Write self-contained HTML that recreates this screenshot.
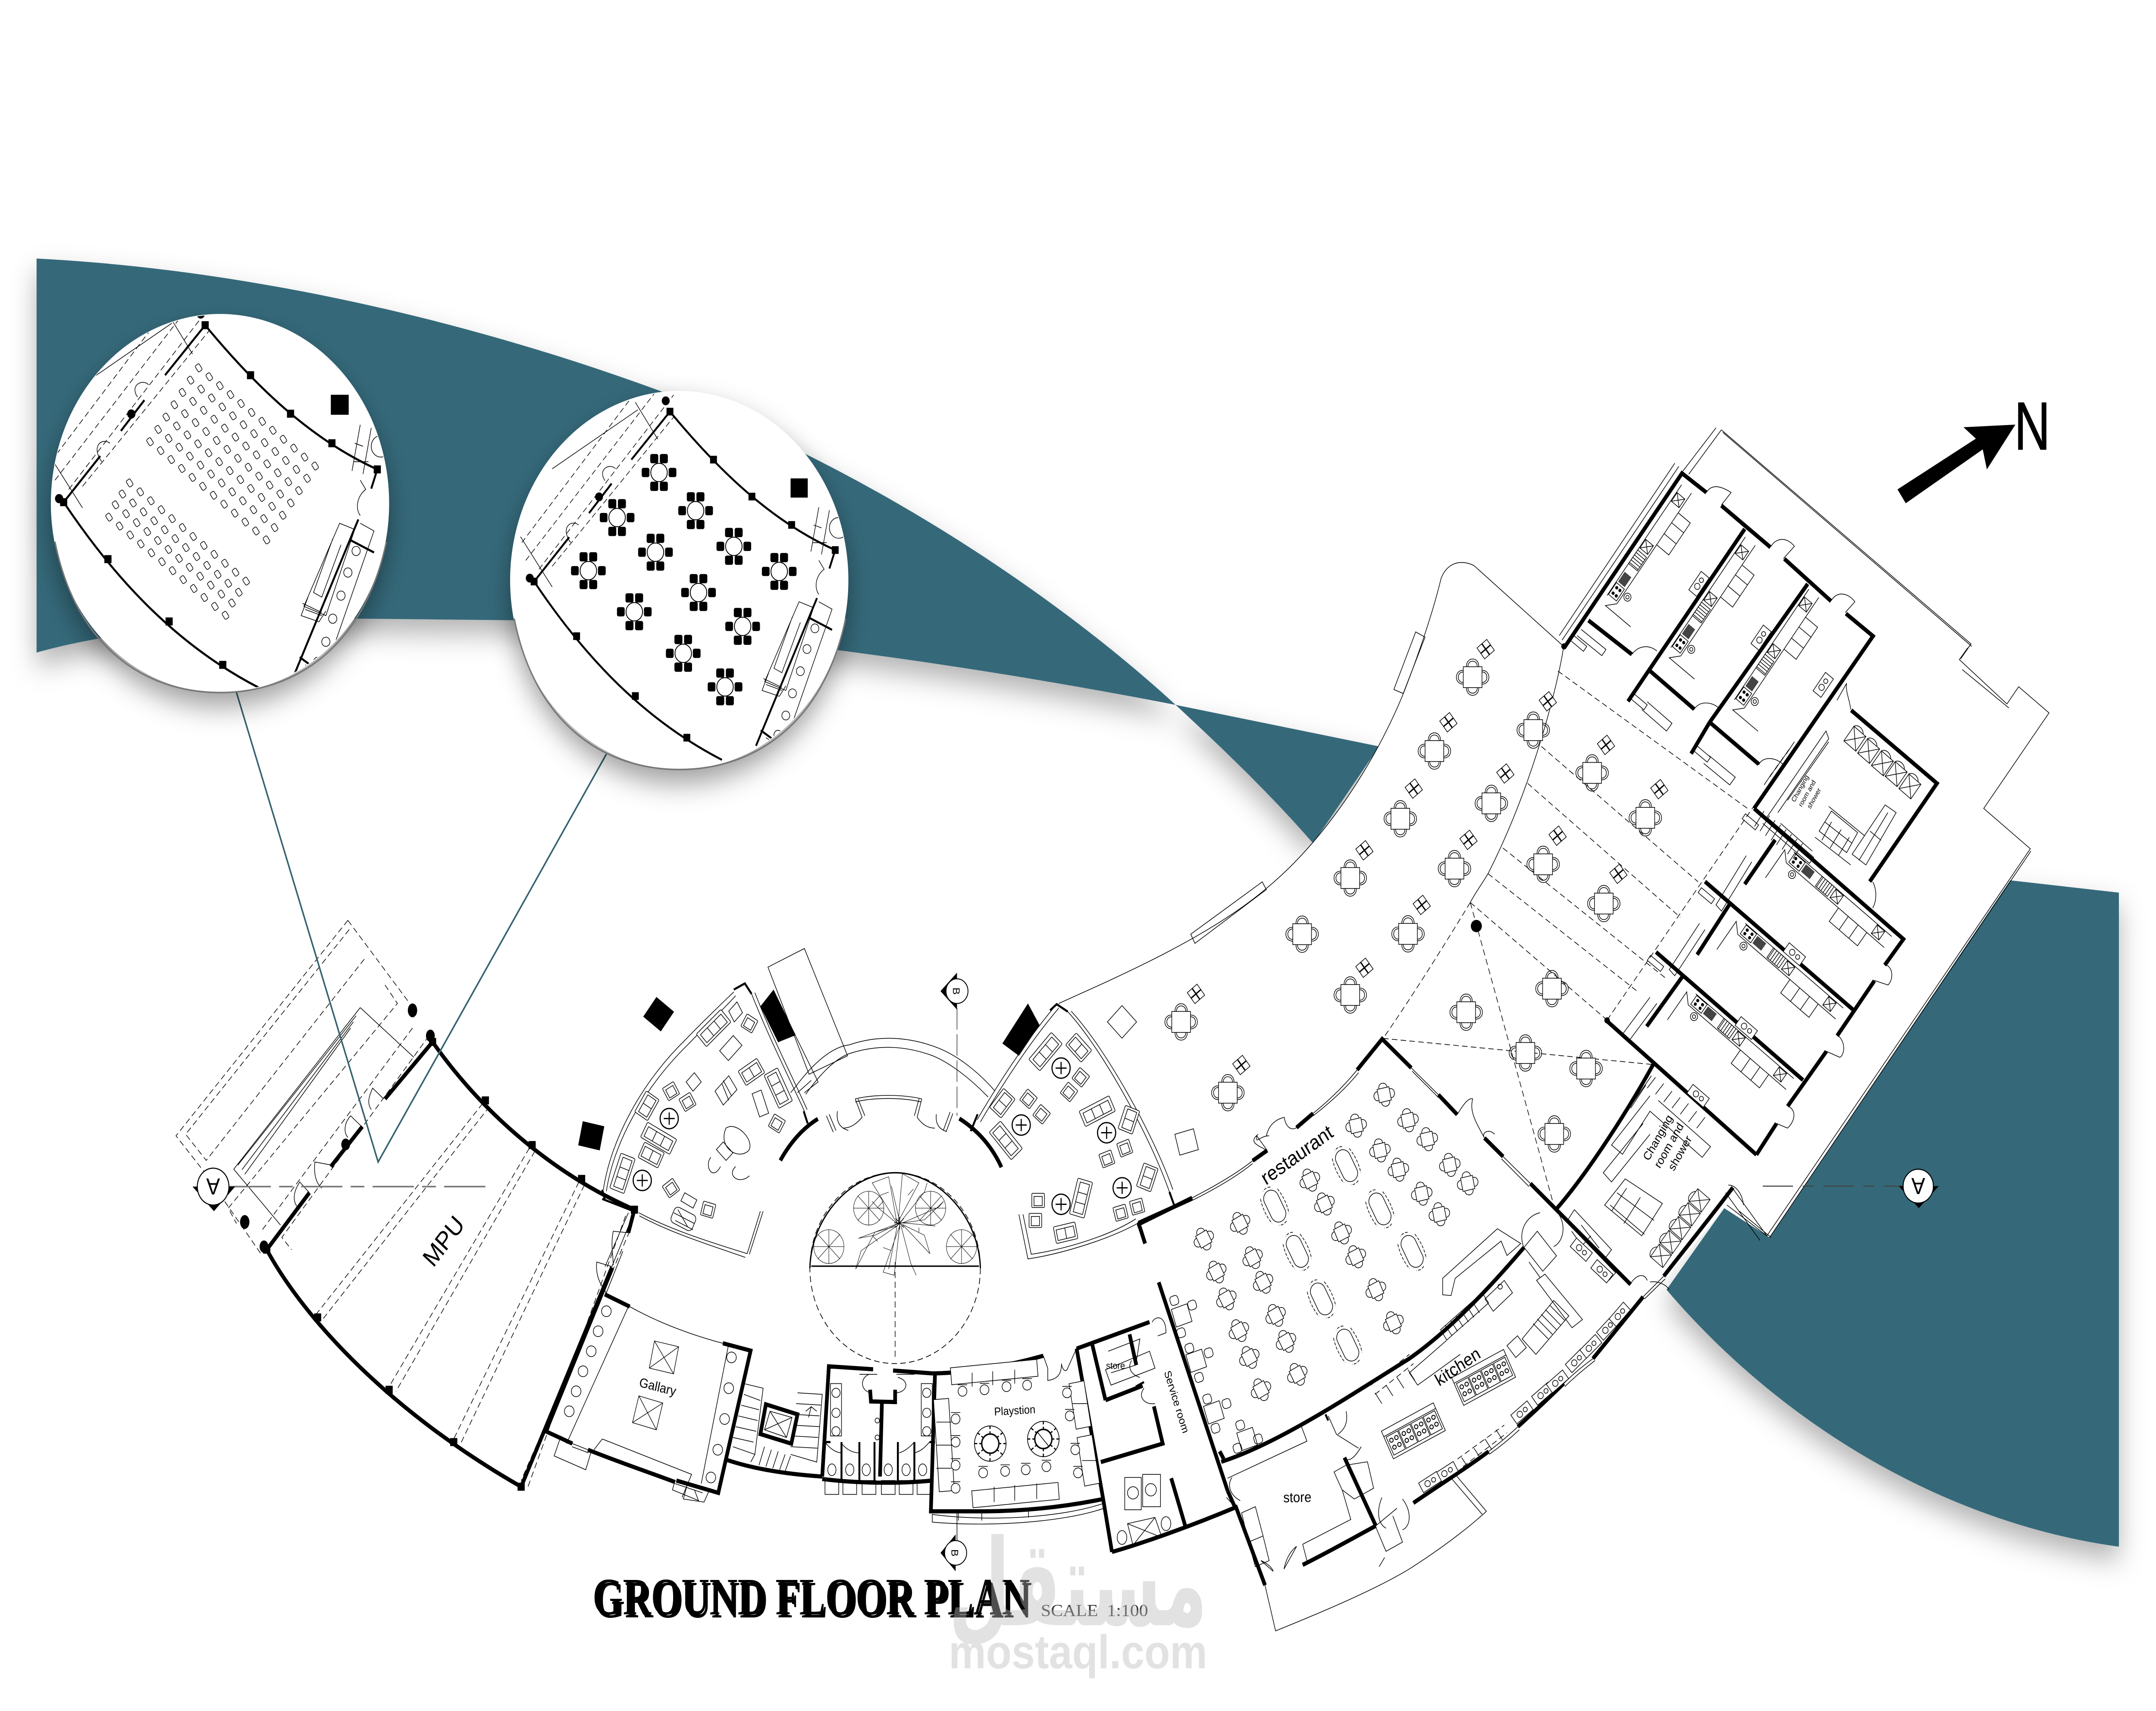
<!DOCTYPE html>
<html><head><meta charset="utf-8"><title>Ground Floor Plan</title>
<style>
html,body{margin:0;padding:0;background:#fff;width:100%;height:100%;overflow:hidden}
svg{position:absolute;left:0;top:0;display:block;width:100%;height:100%}
.w{stroke-width:2.7;stroke-linecap:butt;stroke-linejoin:miter}
.m{stroke-width:1.4}
.t{stroke-width:.45}
.d{stroke-width:.45;stroke-dasharray:4 2.4}
.f{fill:#fff}
.b{fill:#000;stroke:none}
text{font-family:"Liberation Sans",sans-serif;stroke:none;fill:#000}
</style></head><body>
<svg xmlns="http://www.w3.org/2000/svg" viewBox="0 0 1568 1111.74" preserveAspectRatio="none">
<defs>
<filter id="sh" x="-20%" y="-20%" width="140%" height="150%"><feDropShadow dx="0" dy="9" stdDeviation="9" flood-color="#000" flood-opacity=".3"/></filter>
<filter id="csh" x="-30%" y="-30%" width="160%" height="170%"><feDropShadow dx="0" dy="9" stdDeviation="9" flood-color="#000" flood-opacity=".38"/></filter>
<clipPath id="c1"><circle cx="160" cy="327" r="122.5"/></clipPath>
<clipPath id="c2"><circle cx="494" cy="377" r="122.5"/></clipPath>
<g id="ca"><path d="M-4.5,-6.8C-4.6,-13.5 4.6,-13.5 4.5,-6.8M-3.4,-6.8C-3.5,-11.6 3.5,-11.6 3.4,-6.8"/></g>
<g id="t4"><use href="#ca"/><use href="#ca" transform="rotate(90)"/><use href="#ca" transform="rotate(180)"/><use href="#ca" transform="rotate(270)"/><rect x="-6.8" y="-6.8" width="13.6" height="13.6" class="f"/></g>
<g id="st"><rect x="-4.5" y="-4.5" width="9" height="9" class="f"/><path d="M0,-4.5V4.5M-4.5,0H4.5" stroke-width=".9"/></g>
<g id="t3"><rect x="-4.4" y="-4.4" width="8.8" height="8.8" class="f"/><path d="M-3,-4.6C-3,-8.6 3,-8.6 3,-4.6M-3,4.6C-3,8.6 3,8.6 3,4.6M-4.6,-3C-8.6,-3 -8.6,3 -4.6,3M4.6,-3C8.6,-3 8.6,3 4.6,3"/></g>
<g id="ov"><rect x="-11" y="-5.5" width="22" height="11" rx="5.5" class="f"/><path stroke-dasharray="2 1" d="M-9,-7C-3,-8.5 3,-8.5 9,-7M-9,7C-3,8.5 3,8.5 9,7M-12.5,-3C-13.5,-1 -13.5,1 -12.5,3M12.5,-3C13.5,-1 13.5,1 12.5,3"/></g>
<g id="rt"><circle r="6.6" class="f" stroke-width=".8"/><path d="M-4,0H4M0,-4V4" stroke-width=".8"/></g>
<g id="so"><rect x="-12" y="-5.5" width="24" height="11" rx=".8" class="f"/><rect x="-10" y="-3.2" width="20" height="7" /><path d="M-3.3,-3.2V3.8M3.3,-3.2V3.8"/></g>
<g id="so2"><rect x="-8" y="-5.5" width="16" height="11" rx=".8" class="f"/><rect x="-6.4" y="-3.2" width="12.8" height="7"/><path d="M0,-3.2V3.8"/></g>
<g id="ch"><rect x="-4.6" y="-4.6" width="9.2" height="9.2" rx=".6" class="f"/><rect x="-3" y="-2.6" width="6" height="6"/></g>
<g id="xb"><rect x="-10" y="-10" width="20" height="20" class="f"/><path d="M-10,-10L10,10M10,-10L-10,10"/></g>
<g id="lk"><rect x="-5.5" y="-6" width="11" height="12" class="f"/><path d="M-5.5,-6L5.5,6M5.5,-6L-5.5,6M-5.5,-6C-4,-9 1,-9 3,-6"/></g>
<g id="hb"><rect x="-4.8" y="-3.6" width="9.6" height="7.2" class="f"/><circle cx="-2.2" cy="-1.4" r="1.1" class="b"/><circle cx="2.2" cy="-1.4" r="1.1" class="b"/><circle cx="-2.2" cy="1.5" r="1.1" class="b"/><circle cx="2.2" cy="1.5" r="1.1" class="b"/></g>
<g id="ku">
<path d="M-6,-4H84M-6,5H84"/>
<use href="#hb"/>
<rect x="6" y="-3" width="8" height="6" fill="#444" stroke="none"/>
<rect x="20" y="-4" width="11" height="8" class="f"/><path d="M21,-4V4M23,-4V4M25,-4V4M27,-4V4M29,-4V4"/>
<rect x="33" y="-3.5" width="7" height="7" class="f"/><path d="M33,-3.5L40,3.5M40,-3.5L33,3.5"/>
<rect x="71" y="-3.5" width="7" height="7" class="f"/><path d="M71,-3.5L78,3.5M78,-3.5L71,3.5"/>
<path d="M42,5V16H68V5M51,5V16M60,5V16"/>
<circle cx="2" cy="8.5" r="2.6"/><circle cx="2" cy="8.5" r="1.2"/>
<path d="M-6,5L-12,-1V22"/>
</g>
<g id="brn"><rect x="-4.6" y="-5" width="9.2" height="13" /><circle cx="-2" cy="-1.5" r="1.3" stroke-width=".6"/><circle cx="2" cy="-1.5" r="1.3" stroke-width=".6"/><circle cx="-2" cy="3.5" r="1.3" stroke-width=".6"/><circle cx="2" cy="3.5" r="1.3" stroke-width=".6"/></g>
<g id="cook"><rect x="-21" y="-10" width="42" height="20" class="f"/><use href="#brn" x="-15"/><use href="#brn" x="-5"/><use href="#brn" x="5"/><use href="#brn" x="15"/><path d="M-21,-6H21"/></g>
<g id="kq"><rect x="-7.5" y="-3.6" width="15" height="7.2" class="f"/><circle cx="-2" cy="0" r="2"/><circle cx="3" cy="0" r="1.5"/></g>
<g id="blk"><rect x="-2.6" y="-2.6" width="5.2" height="5.2" class="b"/></g>
<g id="stool"><circle r="3.2" class="f"/><path d="M-3.4,-4.2H3.4"/></g>
<g id="s"><rect x="-2.4" y="-1.7" width="4.8" height="3.4" rx=".9" class="f" stroke-width=".45" transform="rotate(55)"/></g>
<g id="sr"><use href="#s"/><use href="#s" x="7.7" y="5.8"/><use href="#s" x="15.4" y="11.6"/><use href="#s" x="23.1" y="17.4"/><use href="#s" x="30.8" y="23.2"/><use href="#s" x="38.5" y="29"/><use href="#s" x="46.2" y="34.8"/><use href="#s" x="53.9" y="40.6"/><use href="#s" x="61.6" y="46.4"/><use href="#s" x="69.3" y="52.2"/><use href="#s" x="77" y="58"/><use href="#s" x="84.7" y="63.8"/></g>
<g id="rtb"><circle r="6" class="f" stroke-width=".6"/>
<g class="b"><rect x="-6.4" y="-12" width="5.8" height="6" rx="1.2"/><rect x=".6" y="-12" width="5.8" height="6" rx="1.2"/><rect x="-6.4" y="6" width="5.8" height="6" rx="1.2"/><rect x=".6" y="6" width="5.8" height="6" rx="1.2"/><rect x="-12.6" y="-3" width="5.6" height="6" rx="1.2"/><rect x="7" y="-3" width="5.6" height="6" rx="1.2"/></g></g>
<g id="room">
<path class="m" d="M46.3,326.3C85,378 130,420 188.6,447"/>
<path class="m" d="M149.2,211.3C185,250 225,285 274.4,305"/>
<path class="m" d="M46.3,326.3L72.9,296.3M87.9,280L105,260M120,243.8L149.2,211.3M274.4,305L270,317.5M260.6,337.5L214.4,437.5M255,351L272,359M218,427L227,433"/>
<use href="#blk" x="46.3" y="326.3"/><use href="#blk" x="149.2" y="211.3"/><use href="#blk" x="274.4" y="305"/><use href="#blk" x="78.5" y="363.3"/><use href="#blk" x="123" y="403.8"/><use href="#blk" x="162" y="432"/><use href="#blk" x="182.2" y="243.8"/><use href="#blk" x="211.3" y="268.8"/><use href="#blk" x="241.4" y="288"/>
<circle cx="95.5" cy="269" r="3" class="b"/><circle cx="146" cy="204" r="3" class="b"/><circle cx="43" cy="324" r="3" class="b"/>
<path class="d" d="M40,312L140,196M50,318L152,200M37,300L130,190M60,316L152,215"/>
<path class="t" d="M36,296L60,330M60,250L125,210M123,205L140,230"/>
<path class="t" d="M262,335C258,330 260,322 266,318L262,312M74,300C66,290 74,284 80,288M100,258C94,250 104,246 108,250"/>
<rect x="240.6" y="256.5" width="13" height="13" class="b"/>
<path class="t" d="M262,276L256,306M270,278L264,308M257,300H268M264,290L258,288"/>
<circle cx="277" cy="290" r="7"/>
<path class="t" d="M247,340L221,394L237,400L258,344ZM242,350L228,385L234,388L248,354M224,388L219,400L232,404L237,397M220,392L234,398M222,396L234,400"/>
<path class="t" d="M262,340L272,345L235,440L222,432"/>
<g class="t"><circle cx="259" cy="358" r="3"/><circle cx="253" cy="372" r="3"/><circle cx="248" cy="387" r="3"/><circle cx="242" cy="402" r="3"/><circle cx="237" cy="417" r="3"/><circle cx="231" cy="430" r="3"/></g>
</g>
</defs>

<rect width="1568" height="1111.74" fill="#fff"/>

<!-- teal bands -->
<g fill="#36697a" filter="url(#sh)" fill-rule="evenodd">
<path d="M26.6,168C180,175 340,208 480,254C620,300 760,380 855,458C780,445 700,433 610,422.5C530,412 450,404 373,403L264,402C180,402 90,408 26.6,424Z"/>
<path d="M855,458L1003,485L955,548C925,517 890,487 855,458Z"/>
<path d="M1462,572L1541,580L1541,1005C1420,990 1300,930 1212,838L1254,785L1287,804Z"/>
</g>

<!-- white plan mask -->
<path fill="#fff" d="M1137.2,420L1072,367.5C1062,363 1052,366 1048,376C1043,395 1032,425 1020,452C1000,495 965,545 920,578C880,608 820,632 770,652L770,830L1210,832L1254,785L1287,804L1476.6,551.5L1442.7,525.3L1490.2,463.2L1468,446L1459.6,457.4L1425,428.6L1433.5,418.4L1251.9,279.3L1228,308Z"/>

<g fill="none" stroke="#000" stroke-width=".45">

<!-- ======= MPU ======= -->
<path class="w" d="M194,812C222,858 285,918 379,966"/>
<path class="w" d="M314.6,677C345,716 395,760 461.4,786"/>
<path class="w" d="M194,812L225,775M240.6,758L263.5,732M280,714L314.6,677M461.4,786L457,801M445,823.5L379,966"/>
<g><use href="#blk" x="194" y="812"/><use href="#blk" x="231" y="856"/><use href="#blk" x="283" y="903"/><use href="#blk" x="330" y="937"/><use href="#blk" x="379" y="966"/><use href="#blk" x="314.6" y="677"/><use href="#blk" x="353" y="715"/><use href="#blk" x="387" y="744"/><use href="#blk" x="423" y="766"/><use href="#blk" x="461.4" y="786"/></g>
<path class="d" d="M351,717L229,855M356,719L234,858M385,746L283,901M389,748L288,904M421,768L330,935M425,770L335,938M458,800L379,962M455,790L384,966"/>
<path class="d" d="M253,598L128,738L149,762L190,815M253,598L298,652M254,604L135,737L150,754L266,622M280,640L289,652L166,785L172,795M312,673L205,804L212,812M300,668L190,800"/>
<path class="t" d="M262,654.7L170,759.7L204,796M262,654.7L301,687M259,660L173,757M257,664L176,760M255,668L178,763"/>
<ellipse cx="300" cy="656.5" rx="3.4" ry="4.5" class="b"/><ellipse cx="178" cy="794" rx="3.4" ry="4.5" class="b"/><ellipse cx="251.4" cy="743.6" rx="3.2" ry="3.8" class="b"/><ellipse cx="313" cy="673" rx="3.2" ry="4" class="b"/><ellipse cx="192" cy="810" rx="3.2" ry="4" class="b"/>
<path class="t" d="M279,714L271,707C268,713 267,717 270,721M263,732L255,725C250,730 250,736 253,739M241,757L229,755C228,763 230,769 234,772M225,775L218,768C213,775 213,780 216,784M457,801L446,800C444,809 446,816 446,822M445,823L434,820C433,828 436,834 441,840"/>
<path d="M167,771H355" stroke="#777" stroke-width="1" stroke-dasharray="30 6 10 6"/>
<path class="b" d="M140,771H171L155.6,787Z"/>
<ellipse cx="155" cy="771" rx="11.5" ry="12" class="f" stroke-width=".7"/>
<text x="155" y="776.4" text-anchor="middle" transform="rotate(180 155 771)" style="font-size:15px">A</text>
<text x="322.8" y="812" font-size="16.5" text-anchor="middle" transform="rotate(-50 322.8 806.6)">MPU</text>

<!-- black squares / wedges -->
<rect x="471" y="651" width="16" height="16" class="b" transform="rotate(37 479 659)"/>
<rect x="422" y="730" width="16" height="16" class="b" transform="rotate(12 430 738)"/>
<path class="f" d="M558.5,628.4L585,616.3L616.4,686L588.4,698Z"/>
<path class="b" d="M562.6,643L553,653.9L565.9,677.2L578.7,672.6Z"/>
<path class="b" d="M747.6,652L729,678L741,686L756,666Z"/>
<path class="t" d="M566,677L578,672L595,703L585,710M580,710L590,702M575,710L578.7,706"/>

<!-- ======= left lounge ======= -->
<path class="t" d="M438.8,773C444,742 465,705 498,676C512,663 525,652 533.7,644.5M441,774C446,744 467,708 500,679C514,666 527,655 535,647"/>
<path class="m" d="M533.7,643L541.7,639L546.6,645.8"/>
<path class="t" d="M546.6,645.8C560,676 575,702 585,722M549,645C562,675 577,701 587,721"/>
<path class="m" d="M584.5,722L587.4,730"/>
<path class="w" d="M567.5,754C575,742 584,733 594.8,727"/>
<path class="t" d="M464.6,788C490,800 520,808 543.4,814.6M465,790C490,802 520,810 542,817M543.4,814.6L553,787M545,815L555,787"/>
<path class="m" d="M438,773L440,780M438,779L461,787"/>
<use href="#rt" x="486.7" y="726.8"/><use href="#rt" x="467.1" y="767"/>
<use href="#so" transform="translate(519,668) rotate(-42)"/><use href="#so" transform="translate(566,707) rotate(63)"/><use href="#so2" transform="translate(546.5,696.5) rotate(-32)"/>
<use href="#so" transform="translate(479,739.6) rotate(28)"/><use href="#so2" transform="translate(473.6,750.5) rotate(26)"/><use href="#so" transform="translate(452.7,762.4) rotate(-70)"/><use href="#so2" transform="translate(470.5,718.5) rotate(-58)"/>
<use href="#ch" transform="translate(488,709) rotate(-30)"/><use href="#ch" transform="translate(500,716) rotate(-30)"/><use href="#ch" transform="translate(545,665) rotate(30)"/><use href="#ch" transform="translate(565,730) rotate(30)"/>
<rect x="-7" y="-4.5" width="14" height="9" class="f" transform="translate(531.5,681) rotate(-45)"/><rect x="-8" y="-3.5" width="16" height="7" class="f" transform="translate(553,717) rotate(70)"/><rect x="-5" y="-3.5" width="10" height="7" class="f" transform="translate(527,748) rotate(45)"/>
<path class="t" d="M520,709L530,699L536,708L526,718ZM525,704L530,715M526,702L532,712"/>
<path class="t" d="M528,733C522,745 536,754 544,748C550,742 536,728 528,733ZM517,752C512,757 518,768 524,758M535,758C528,764 538,770 545,764"/>
<rect x="-5" y="-3" width="10" height="6" class="f" transform="translate(501,780) rotate(28)"/><rect x="-8.5" y="-5.5" width="17" height="11" rx="3" class="f" transform="translate(497,792) rotate(25)"/><path class="t" d="M490,788L505,795M491,793L504,799M493,786L500,797"/><use href="#ch" transform="translate(515,786) rotate(15)"/><use href="#ch" transform="translate(488,772) rotate(-35)"/>
<path class="t" d="M530,657L536,651L540,658L534,664ZM504,709L499,703L505,697L510,703Z"/>

<!-- ======= central court ======= -->
<path class="t" d="M578.7,706C592,690 606,680 617.3,679C640,672 662,674 681.6,680.7C697,686 712,697 723.5,708.8"/>
<path class="t" d="M586,711C598,696 608,688 617.3,684.7C640,678 660,680 678.4,686C692,691 707,702 718.6,712.8"/>
<path class="t" d="M622,714C636,711 656,711 670.4,714M622,716C636,713 656,713 670,716M601,725L606,735.6M603,724L608,734.6M622,714L627,726M624,714L629,725M670.4,714L667,726M668.4,714L665,725M693,723.5L688,735.6M691,722.5L686,734.6"/>
<path class="t" d="M609,722C608,729 611,733 617,734.5M627,726C623,730 619,733 613,733M667,726C671,731 675,733 680,733M688,735C684,734 680,731 681,724"/>
<path class="w" d="M697.7,726.8C712,735 722,746 728.3,758.4"/>
<circle cx="651" cy="824" r="62" stroke-dasharray="4 2.4" stroke-width=".5"/>
<path stroke-width=".9" d="M589,824C590,790 620,762 651,762C682,762 712,790 713,824M590,822.7H712" />
<path class="d" d="M651,820V884"/>
<g transform="translate(654.3,794.6)">
<path stroke-width=".3" d="M-2,0L-20,-26L-8,-30ZM-1,-1L2,-32L14,-26ZM2,0L28,-10L32,-14L18,-2ZM2,1L18,8L22,20ZM0,2L-12,32L-4,34ZM-2,2L-28,18L-32,30L-18,6ZM0,0L-18,8L-30,10ZM1,-1L18,-20L20,-26M-1,1L-16,-10L-20,-14M1,2L8,26L12,34M-2,3L-8,30M0,-1L-6,-24M3,0L26,2M-12,-14L-16,-10M-8,-20L-14,-18M6,-18L10,-22M14,3L14,6M-6,18L-12,16M-16,12L-20,8"/>
<path stroke-width=".5" d="M-3,-3L3,3M3,-3L-3,3M0,-4V4M-4,0H4"/>
</g>
<g stroke-width=".3">
<g transform="translate(631.8,785)"><circle r="11"/><path d="M-11,0H11M0,-11V11M-8,-8L8,8M8,-8L-8,8"/></g>
<g transform="translate(676.8,785)"><circle r="11"/><path d="M-11,0H11M0,-11V11M-8,-8L8,8M8,-8L-8,8"/></g>
<g transform="translate(602.8,810)"><circle r="11"/><path d="M-11,0H11M0,-11V11M-8,-8L8,8M8,-8L-8,8"/></g>
<g transform="translate(699.3,810)"><circle r="11"/><path d="M-11,0H11M0,-11V11M-8,-8L8,8M8,-8L-8,8"/></g>
</g>
<path d="M696,655V725" stroke-dasharray="14 3" stroke="#444" stroke-width=".5"/><path d="M696,982V1003" class="t"/>
<path class="b" d="M696,632L684,644L696,656Z"/><circle cx="696" cy="644" r="8" class="f" stroke-width=".6"/>
<text x="696" y="647" font-size="7" text-anchor="middle" transform="rotate(90 696 644)">B</text>
<path class="b" d="M695,997L684,1009L695,1021Z"/><circle cx="695" cy="1009" r="8" class="f" stroke-width=".6"/>
<text x="695" y="1012" font-size="7" text-anchor="middle" transform="rotate(90 695 1009)">B</text>

<!-- ======= right lounge ======= -->
<path class="t" d="M710.6,727.6C730,698 750,672 768.5,652.5M713,729C732,700 752,674 770,655"/>
<path class="m" d="M706,735L711,724M763.7,656.5L768.5,652.5L776.5,657.3"/>
<path class="t" d="M776.5,657.3C800,680 835,735 850.5,774.5M779,657C803,680 838,735 853,773"/>
<path class="m" d="M850.5,774.5L854.3,784"/>
<path class="t" d="M741,789L747.6,818C770,815 805,806 828,794.6M744,789L750,815C772,812 805,804 826,792"/>
<path class="w" d="M828,794.6L866.6,779M828,794.6L832.8,808"/>
<use href="#rt" x="771.7" y="694"/><use href="#rt" x="742.7" y="731"/><use href="#rt" x="804.8" y="736"/><use href="#rt" x="771.7" y="782.5"/><use href="#rt" x="816.1" y="771.8"/>
<use href="#so" transform="translate(760.4,683.3) rotate(-47)"/><use href="#so2" transform="translate(784.5,680.7) rotate(45)"/><use href="#so2" transform="translate(729,716.8) rotate(-50)"/><use href="#so" transform="translate(731.5,741) rotate(48)"/><use href="#so" transform="translate(798,722) rotate(-25)"/><use href="#so2" transform="translate(821,727.6) rotate(-70)"/><use href="#so2" transform="translate(834.4,765) rotate(-70)"/><use href="#so" transform="translate(786.2,778.5) rotate(-75)"/><use href="#so2" transform="translate(775,801) rotate(-12)"/>
<use href="#ch" transform="translate(786,700) rotate(40)"/><use href="#ch" transform="translate(777.5,709.5) rotate(40)"/><use href="#ch" transform="translate(748,714) rotate(40)"/><use href="#ch" transform="translate(757.5,724) rotate(40)"/><use href="#ch" transform="translate(805,753) rotate(-20)"/><use href="#ch" transform="translate(818,746) rotate(-20)"/><use href="#ch" transform="translate(755,780)"/><use href="#ch" transform="translate(753,793)"/><use href="#ch" transform="translate(815,788) rotate(-15)"/><use href="#ch" transform="translate(827,784) rotate(-15)"/>

<!-- ======= restaurant outer / atrium ======= -->
<path class="t" d="M1137.2,420L1072,367.5C1062,363 1052,366 1048,376C1043,395 1032,425 1020,452C1000,495 965,545 920,578C880,608 820,632 770,652"/>
<path class="t" d="M1029.6,410.6L1036.4,414L1020.5,450.6L1013.7,448ZM866,607L918,573L921,578L869,613Z"/>
<path class="t" d="M1137.2,420.1C1133,445 1115,510 1082.2,567.7C1078,574 1073,580 1069.3,586.4"/>
<path class="d" d="M1069.3,586.4C1045,622 1025,650 1005.9,674.7M1069.3,586.4L1130.6,785M1005.9,674.7L1201,691.6M1069.3,586.4L1168.8,662.8M1082.2,567.7L1192,645M1093,551L1212,636M1111,509L1222,596M1121,485L1235,573M1133,436L1272,526M1168.8,662.8L1275.7,523.6"/>
<circle cx="1073.7" cy="601.7" r="4" class="b"/><circle cx="1168.8" cy="663" r="2" class="b"/><circle cx="1137.5" cy="420" r="2" class="b"/>
<g>
<use href="#t4" x="1071" y="440"/><use href="#t4" x="1043.2" y="488"/><use href="#t4" x="1084.6" y="522"/><use href="#t4" x="1018.4" y="532"/><use href="#t4" x="1057.8" y="564.4"/><use href="#t4" x="1024" y="606.8"/><use href="#t4" x="1115.1" y="474.4"/><use href="#t4" x="1157.9" y="502.2"/><use href="#t4" x="1196.6" y="531.4"/><use href="#t4" x="1122.3" y="561.6"/><use href="#t4" x="1166.4" y="587.1"/><use href="#t4" x="1128.7" y="642.4"/><use href="#t4" x="1066.3" y="657.7"/><use href="#t4" x="1109.4" y="684.2"/><use href="#t4" x="1153.5" y="694.3"/><use href="#t4" x="1130.4" y="736.8"/><use href="#t4" x="982" y="570.5"/><use href="#t4" x="947" y="607"/><use href="#t4" x="982" y="646.5"/><use href="#t4" x="859" y="664"/><use href="#t4" x="893" y="710"/>
</g>
<g>
<use href="#st" transform="translate(1080.5,421.8) rotate(-38)"/><use href="#st" transform="translate(1053.4,469.3) rotate(-38)"/><use href="#st" transform="translate(1094.8,502.6) rotate(-38)"/><use href="#st" transform="translate(1028.2,512.4) rotate(-38)"/><use href="#st" transform="translate(1068,545.7) rotate(-38)"/><use href="#st" transform="translate(1034,588) rotate(-38)"/><use href="#st" transform="translate(1125.7,455.7) rotate(-38)"/><use href="#st" transform="translate(1168,484) rotate(-38)"/><use href="#st" transform="translate(1206.8,512.8) rotate(-38)"/><use href="#st" transform="translate(1132.8,543) rotate(-38)"/><use href="#st" transform="translate(1177,567.8) rotate(-38)"/><use href="#st" transform="translate(992.3,552.5) rotate(-38)"/><use href="#st" transform="translate(992.3,628.8) rotate(-38)"/><use href="#st" transform="translate(869.8,645.8) rotate(-38)"/><use href="#st" transform="translate(902.8,692) rotate(-38)"/>
</g>
<rect x="-7.5" y="-7.5" width="15" height="15" transform="translate(816,664) rotate(45)"/>
<rect x="-7" y="-7" width="14" height="14" transform="translate(863,742) rotate(-15)"/>

<!-- ======= restaurant walls ======= -->
<path class="w" d="M827.5,795.7L867,778.3M911,754.2L921.6,747.5M942.9,732.7L955,723.4M987,695.2L1005.2,675.1L1026.4,693.9M1046.1,711.3L1059.8,724.2M1079.6,739.4L1093.2,751.5M1113,769L1185.9,834.6"/>
<path class="t" d="M867,778.3C885,770 900,762 911,754.2M867,780C885,772 900,764 911,756M955,723.4C968,714 978,705 987,695.2M955,725C968,716 979,707 988,697M1026.4,693.9L1046.1,711.3M1027,696L1046,713M1093.2,751.5L1113,769M1092,753L1112,771"/>
<path class="t" d="M921.6,747.5L914,738C913,744 916,738 923,738M921.6,747.5C914,744 908,742 915,737M921,738C923,730 929,727 934,726C935,732 939,735 942.9,732.7M1059.8,724.2C1064,718 1068,713 1071,714C1069,722 1072,727 1079.6,739.4C1077,736 1083,733 1087,737"/>
<path class="w" d="M842.7,833.2L892.8,968.6"/>
<path class="w" d="M888.2,949.8C930,938 985,905 1024.9,882.8C1055,864 1085,835 1108.4,810.5M1131.2,786.3C1155,762 1185,720 1202.6,691.2"/>
<path class="w" d="M977.8,947.1L1000.6,991.4M947.4,1016.8C965,1009 985,999 1000.6,991.4M1027.9,976.6C1045,966 1068,953 1082.6,943.1M1103.9,927C1115,918 1128,907 1137.3,898.9M1158.5,882.8C1170,870 1183,856 1195,842.6M1210,829.2C1225,812 1243,792 1260.3,771.6"/>
<path class="t" d="M1082.6,943.1C1090,938 1098,932 1103.9,927M1137.3,898.9C1145,892 1152,887 1158.5,882.8M1195,842.6L1210,829.2M1083,945C1091,940 1099,934 1105,929M1138,901C1146,894 1153,889 1160,884M1196,844L1211,831"/>
<path class="m" d="M964,919L966,923M827.5,795.7L832.8,808"/>
<g>
<use href="#t3" transform="translate(1006.7,711.3) rotate(-12)"/><use href="#t3" transform="translate(986.3,731.4) rotate(-12)"/><use href="#t3" transform="translate(1024,727.9) rotate(-12)"/><use href="#t3" transform="translate(1038,740.2) rotate(-12)"/><use href="#t3" transform="translate(1003.6,747.5) rotate(-12)"/><use href="#t3" transform="translate(1017,760) rotate(-12)"/><use href="#t3" transform="translate(1054.4,756.9) rotate(-12)"/><use href="#t3" transform="translate(1067.4,768.9) rotate(-12)"/><use href="#t3" transform="translate(1034,775.6) rotate(-12)"/><use href="#t3" transform="translate(1046.8,789) rotate(-12)"/><use href="#t3" transform="translate(952.6,766.8) rotate(-25)"/><use href="#t3" transform="translate(963.2,782.3) rotate(-25)"/><use href="#t3" transform="translate(975.7,801.1) rotate(-25)"/><use href="#t3" transform="translate(986,816.6) rotate(-25)"/><use href="#t3" transform="translate(1000.6,838) rotate(-25)"/><use href="#t3" transform="translate(1013.4,859.5) rotate(-25)"/><use href="#t3" transform="translate(901.9,794.9) rotate(-28)"/><use href="#t3" transform="translate(875.5,805.1) rotate(-28)"/><use href="#t3" transform="translate(911,817.2) rotate(-28)"/><use href="#t3" transform="translate(884.6,826.5) rotate(-28)"/><use href="#t3" transform="translate(918.6,833.2) rotate(-28)"/><use href="#t3" transform="translate(891.9,844) rotate(-28)"/><use href="#t3" transform="translate(927.7,854.7) rotate(-28)"/><use href="#t3" transform="translate(901,864.6) rotate(-28)"/><use href="#t3" transform="translate(935.3,871.6) rotate(-28)"/><use href="#t3" transform="translate(908.6,882) rotate(-28)"/><use href="#t3" transform="translate(943.5,893) rotate(-28)"/><use href="#t3" transform="translate(917.1,903) rotate(-28)"/>
</g>
<g>
<use href="#ov" transform="translate(927.1,783.7) rotate(62)"/><use href="#ov" transform="translate(943.5,813.1) rotate(62)"/><use href="#ov" transform="translate(961.1,844) rotate(62)"/><use href="#ov" transform="translate(980.2,874) rotate(62)"/><use href="#ov" transform="translate(979.3,757.4) rotate(62)"/><use href="#ov" transform="translate(1003.6,785.5) rotate(62)"/><use href="#ov" transform="translate(1027,813.1) rotate(62)"/>
</g>
<!-- booths -->
<g class="t">
<rect x="-6" y="-6" width="12" height="12" class="f" transform="translate(859.4,854.7) rotate(-18)"/><rect x="-6" y="-6" width="12" height="12" class="f" transform="translate(870,884.2) rotate(-18)"/><rect x="-6" y="-6" width="12" height="12" class="f" transform="translate(882.8,917.7) rotate(-18)"/><rect x="-6" y="-6" width="12" height="12" class="f" transform="translate(907,935) rotate(-18)"/>
<rect x="851" y="842" width="6" height="6" rx="2" transform="rotate(-18 854 845)"/><rect x="864" y="845" width="6" height="6" rx="2" transform="rotate(-18 867 848)"/><rect x="856" y="863" width="6" height="6" rx="2" transform="rotate(-18 859 866)"/><rect x="862" y="873" width="6" height="6" rx="2" transform="rotate(-18 865 876)"/><rect x="876" y="876" width="6" height="6" rx="2" transform="rotate(-18 879 879)"/><rect x="869" y="892" width="6" height="6" rx="2" transform="rotate(-18 872 895)"/><rect x="875" y="906" width="6" height="6" rx="2" transform="rotate(-18 878 909)"/><rect x="889" y="909" width="6" height="6" rx="2" transform="rotate(-18 892 912)"/><rect x="881" y="925" width="6" height="6" rx="2" transform="rotate(-18 884 928)"/><rect x="899" y="923" width="6" height="6" rx="2" transform="rotate(-18 902 926)"/><rect x="897" y="938" width="6" height="6" rx="2" transform="rotate(-18 900 941)"/><rect x="912" y="932" width="6" height="6" rx="2" transform="rotate(-18 915 935)"/>
</g>
<text x="942.9" y="755" font-size="13.2" text-anchor="middle" transform="rotate(-33 942.9 750)">restaurant</text>

<!-- ======= kitchen ======= -->
<path class="t" d="M1049.2,841.3L1055.3,841.8L1058.3,830.6L1091.7,806.4L1096,815.8L1106,808L1089,798.4L1049.2,830.6Z"/>
<path class="t" d="M1047.7,864L1078,840L1082.6,846.6L1052.2,870.7ZM1051,861L1056,868M1055,858L1060,865M1059,855L1064,862M1063,852L1068,859M1067,849L1072,856M1071,846L1076,853"/>
<path class="t" d="M1080,844L1094,832L1100,840L1086,852Z"/><circle cx="1091" cy="836" r="1.6"/>
<path class="t" d="M1052,871L1025,892L1031,900L1062,880"/>
<path class="t" d="M1117.5,831.9L1123.6,827.9L1150.9,857.4L1143.3,862.7ZM1130,845L1141,855L1117,880L1107,870ZM1127,848L1138,858M1124,851L1135,861M1121,854L1132,864M1118,857L1129,867M1115,860L1126,870"/>
<rect x="-5" y="-5" width="10" height="10" class="f" transform="translate(1103,875) rotate(-40)"/>
<use href="#cook" transform="translate(1027.9,929.7) rotate(-26)"/><use href="#cook" transform="translate(1079,895) rotate(-26)"/>
<g>
<use href="#kq" transform="translate(1106.9,917.7) rotate(-38)"/><use href="#kq" transform="translate(1122,905.6) rotate(-38)"/><use href="#kq" transform="translate(1132.7,897.6) rotate(-38)"/><use href="#kq" transform="translate(1146.4,884.2) rotate(-42)"/><use href="#kq" transform="translate(1157,874.8) rotate(-42)"/><use href="#kq" transform="translate(1169,863) rotate(-44)"/><use href="#kq" transform="translate(1178,854) rotate(-46)"/><use href="#kq" transform="translate(1052.2,956.5) rotate(-30)"/><use href="#kq" transform="translate(1040,963) rotate(-30)"/>
</g>
<path class="d" d="M1060,948L1094,926M1064,953L1096,931M997,900L1025,880M1000,906L1028,886"/>
<path class="t" d="M1000,905L1005,912M1008,900L1013,907M1016,895L1021,902M1024,890L1029,897M1063,947L1068,954M1072,941L1077,948M1080,935L1085,942M1088,929L1093,936"/>
<text x="1059.8" y="892" font-size="11.5" text-anchor="middle" transform="rotate(-32 1059.8 887.6)">kitchen</text>
<path class="t" d="M966,920L972,932L988,941M979,917C981,926 976,930 973,932M990,940C986,946 982,950 978,948"/>

<path class="t" d="M1108.4,810.5L1118,800L1132,816L1122,826ZM1120,788C1110,790 1104,800 1108,810M1130,786C1138,790 1140,805 1130,810M1120,830L1112,820"/>
<path class="t" d="M1000.6,991.4L1016,980M1000,991L1008,1008L1020,1002L1013,985M1005,973C1001,982 1002,990 1008,993M1020,974C1027,982 1026,992 1020,994"/>

<!-- store -->
<path class="t" d="M892.8,960.5L950.5,936.4L946,925.7"/>
<path class="t" d="M947.4,1003.4L982.4,987.3L976.3,968.5L970.2,956.5M947.4,1003.4L950.5,1014"/>
<path class="t" d="M970,956.5L979,952L994.5,949.8L999,967L985,974L976,968"/>
<path class="t" d="M903,983L913,979L918.6,998L908,1002ZM908,1002L913,1018L923,1014L918.6,998"/>
<path class="t" d="M917,1014C920,1015 925,1018 926,1021M943,1004.8C938,1008 935,1014 933.8,1019.5M917,1014L926,1021M943,1004.8L933.8,1019.5"/>
<text x="943.5" y="976" font-size="9.2" text-anchor="middle" transform="rotate(-1 943.5 972.6)">store</text>
<path class="t" d="M920,1030L927.7,1059.7C960,1048 1000,1033 1024.9,1019.5C1045,1008 1065,995 1081,982L1058.3,957.9M1078,984L1055,960M1003,1018L1007,1012"/>

<!-- ======= service area ======= -->
<path class="w" d="M783,876.3L802.3,974L808.7,1008.4M783,876.3L836,859M794.2,873L804,909.8M804,909.8L831,900.4M821.5,867L826.4,887M839.2,913.8L845.6,938L800.6,950M851.8,960.5L862.4,992.7M808.7,1008.4C830,1003 865,992 898.9,979.3L920,1030"/>
<path class="w" d="M892.8,968.6L898,979M887,943L890,948"/>
<path class="m" d="M826,901L832,898"/>
<path class="t" d="M804,890L836,878L840,889L808,900ZM806,878L829,870L826,887L808,892M829,895C822,893 820,888 823,884M832,902C827,908 833,913 840,912"/>
<path class="t" d="M838,859C840,855 848,854 848,866L842,868M902,975C895,972 892,965 896,960M898,979L892,973"/>
<g class="t"><rect x="818" y="960" width="12" height="21" /><rect x="831" y="958" width="13" height="21"/><circle cx="824" cy="970" r="4"/><circle cx="837" cy="968" r="4"/><path d="M820,990L840,986L845,999L824,1004ZM820,990L845,999M840,986L824,1004"/><ellipse cx="816" cy="999" rx="3.5" ry="4.5"/><ellipse cx="848" cy="990" rx="3.5" ry="4.5"/></g>
<text x="855.3" y="913" font-size="7.2" text-anchor="middle" transform="rotate(71 855.3 911)">Service room</text>
<text x="811.3" y="889.5" font-size="6.2" text-anchor="middle">store</text>

<!-- ======= playstation ======= -->
<path class="w" d="M678.4,892.4C705,892 735,887 758.8,880.9M680,892.4L677,982L713.8,982C745,982 775,979 802.3,974"/>
<path class="t" d="M678,984C720,989 772,986 802,977L803,980C770,990 715,992 678,989Z"/><path class="t" d="M714,982V988M748,980V986M697,982V988"/>
<path class="t" d="M758.8,881L762,889C762,895 762,896 762,897C770,896 772,892 772,886M783,876L776,890C774,892 772,888 772,886"/>
<rect x="691.5" y="886" width="63" height="11" class="f" transform="rotate(-5 723 891)"/><path class="t" d="M707,892V901M722,891V900M738,890V899"/>
<g><use href="#stool" x="700" y="904"/><use href="#stool" x="716" y="903"/><use href="#stool" x="732" y="901"/><use href="#stool" x="747" y="900"/></g>
<rect x="707" y="966" width="63" height="11" class="f" transform="rotate(-5 738 971)"/><path class="t" d="M723,966V976M738,965V975M754,964V974"/>
<g><use href="#stool" x="715" y="957"/><use href="#stool" x="731" y="956"/><use href="#stool" x="746" y="955"/><use href="#stool" x="761" y="953"/></g>
<rect x="681" y="909" width="11" height="60" class="f" transform="rotate(-4 686 939)"/><path class="t" d="M681,924H692M681,939H692M681,954H692"/>
<g><use href="#stool" x="695" y="922"/><use href="#stool" x="695" y="937"/><use href="#stool" x="695" y="952"/><use href="#stool" x="695" y="967"/></g>
<rect x="780" y="898" width="11" height="30" class="f" transform="rotate(-10 785 913)"/><path class="t" d="M780,912H791"/>
<rect x="786" y="933" width="11" height="32" class="f" transform="rotate(-10 791 949)"/><path class="t" d="M787,949H798"/>
<g><use href="#stool" x="776" y="905"/><use href="#stool" x="778" y="920"/><use href="#stool" x="782" y="942"/><use href="#stool" x="784" y="957"/></g>
<g stroke-width=".5">
<circle cx="720.2" cy="938" r="11.5"/><circle cx="720.2" cy="938" r="6.5"/><path d="M711,931L729,945M711,945L729,931M720,926.5V949.5M708.7,938H731.7" stroke-width=".8" stroke-dasharray="2 1.5"/><circle cx="720.2" cy="938" r="6" class="f"/>
<circle cx="758.8" cy="935" r="11.5"/><circle cx="758.8" cy="935" r="6.5"/><path d="M750,928L768,942M750,942L768,928M758.8,923.5V946.5M747.3,935H770.3" stroke-width=".8" stroke-dasharray="2 1.5"/><circle cx="758.8" cy="935" r="6" class="f"/><path d="M754,930L763,940"/>
</g>
<text x="738" y="919" font-size="7.4" text-anchor="middle" transform="rotate(-3 738 916.5)">Playstion</text>

<!-- ======= toilets + stair ======= -->
<path class="w" d="M598,959.4L602.8,887.8L635,889.7M649.5,890.5L678.4,892.4M632.8,903L633.4,910.6L651,911L651,903M641.4,911L640,959.4M529,948.7C550,955 575,958 598,959.4M598,961C625,964 655,964 678,962"/>
<path class="m" d="M612,937V962M625,937V962M636,937V962M653,937V962M665,937V962M600,937L604,937M676,937L680,937"/>
<path class="t" d="M625,893H638M652,893H665M632,893C626,895 625,903 633,905M653,895C662,897 660,905 651,905"/>
<g class="t"><rect x="604" y="899" width="8" height="34"/><circle cx="608" cy="905" r="3"/><circle cx="608" cy="918" r="3"/><circle cx="608" cy="930" r="3"/><rect x="670" y="899" width="8" height="34"/><circle cx="674" cy="905" r="3"/><circle cx="674" cy="918" r="3"/><circle cx="674" cy="930" r="3"/>
<ellipse cx="605" cy="955" rx="3" ry="3.8"/><ellipse cx="618" cy="955" rx="3" ry="3.8"/><ellipse cx="630" cy="955" rx="3" ry="3.8"/><ellipse cx="646" cy="955" rx="3" ry="3.8"/><ellipse cx="659" cy="955" rx="3" ry="3.8"/><ellipse cx="671" cy="955" rx="3" ry="3.8"/>
<rect x="600" y="962" width="10" height="9"/><rect x="613" y="962" width="10" height="9"/><rect x="627" y="962" width="10" height="9"/><rect x="641" y="962" width="10" height="9"/><rect x="654" y="962" width="10" height="9"/><rect x="667" y="962" width="10" height="9"/>
<path d="M600,937C604,942 609,944 612,944M612,938C616,942 620,944 625,944M654,944C658,943 662,940 665,937M665,944C670,943 673,940 676,937"/>
<circle cx="638" cy="923" r="1.6"/><circle cx="638" cy="934" r="1.6"/></g>
<path class="w" d="M557,912.5L580,919L575.5,938L553,931.8Z"/>
<path class="t" d="M560,917L576,921L572,934L556,929ZM560,917L572,934M576,921L556,929"/>
<path class="t" d="M541,899L555,902L549,945L533,940M541,906L553,910M539,913L552,916M537,920L551,923M535,927L550,930M533,934L548,937M580,905L598,906L594,950L575,945M579,912L597,913M578,919L596,920M577,926L596,927M576,933L595,934M575,940L595,941M590,914L588,921M586,917L590,914L594,917"/>
<path class="t" d="M549,945L546,950M556,940L552,952M561,942L557,953M566,943L562,954M571,945L567,955M575,946L571,956"/>

<!-- ======= gallery ======= -->
<path class="w" d="M445.3,824L397,930L416.3,938M439.8,841L458,849M525.7,872.8L545.9,877.6L522.4,970L491.9,962M491,963C470,956 450,950 427.6,942"/>
<path class="t" d="M458,849C480,860 505,868 525.7,872.8"/>
<path class="t" d="M457,849L412,938M530,873L510,964"/>
<path class="t" d="M416.3,938L427.6,942M416,940L428,944M491.9,962L512,968M491,964L511,970"/>
<path class="t" d="M408,933L403,946L426,955L430,943M505,968L508,975L489,968L491,962M500,964L497,974L512,976L516,968M438,935L503,958L496,973M438,935L432,942"/>
<g class="t"><circle cx="441" cy="852" r="3.5"/><circle cx="435" cy="865" r="3.5"/><circle cx="430" cy="878" r="3.5"/><circle cx="424" cy="891" r="3.5"/><circle cx="419" cy="904" r="3.5"/><circle cx="414" cy="917" r="3.5"/><circle cx="532" cy="882" r="3.5"/><circle cx="530" cy="902" r="3.5"/><circle cx="527" cy="922" r="3.5"/><circle cx="522" cy="942" r="3.5"/><circle cx="517" cy="960" r="3.5"/></g>
<use href="#xb" transform="translate(482.9,882) rotate(12) scale(.9)"/><use href="#xb" transform="translate(471,918) rotate(15) scale(.9)"/>
<text x="478.4" y="904" font-size="8.6" text-anchor="middle" transform="rotate(13 478.4 901)">Gallary</text>
<path class="t" d="M445,823L462,786M440,823L457,788M441,840L453,813"/>

<!-- ======= north block outline ======= -->
<path class="t" d="M1251.9,279.3L1433.5,418.4L1425,428.6L1459.6,457.4L1468.1,446.2L1490.2,463.2L1442.7,525.3L1476.6,551.5L1285,803L1256,783"/>
<path class="t" d="M1253,281L1434,420M1477,553L1287,804M1251.9,279.3L1228.2,308.1M1248,278L1224,306M1425,428.6L1431,421"/>
<path class="t" d="M1426,428L1433,419M1427,435L1461,460"/>
<path class="w" d="M1224.1,306.4L1138.2,420.1M1224.1,308.1L1241,320M1251.9,328.5L1287.6,355.6M1297.7,363.1L1331.7,390.6M1342.5,398.7L1362.2,413.3L1275.7,525.3M1268.9,343.7L1199.3,435.4M1314.7,379.4L1243.4,469.3M1155.2,403.1L1186.8,425.2M1199.3,435.4L1184,455.7M1199.3,435.4L1232.2,460.8M1243.4,469.3L1229.9,489.7M1243.4,469.3L1279.1,496.5M1346.3,461.5L1408.7,509L1359.8,572.8M1275.7,525.3L1384.3,610.2L1370.7,627.1M1363.2,637.3L1336.1,673M1291,545.7L1268.9,574.5M1240,572.8L1347.6,656M1258.7,586.4L1234.3,620.3M1204.4,618.6L1311.3,701.8M1224.1,633.9L1197.6,666.9M1328.3,683.1L1300.1,718.8M1168.8,663.5L1277.4,750.3M1292,730L1277.4,750.3"/>
<path class="t" d="M1221,303L1136,416M1218,301L1134,413"/>
<g>
<use href="#ku" transform="translate(1175.6,384.5) rotate(-53)"/><use href="#ku" transform="translate(1222,418.4) rotate(-53)"/><use href="#ku" transform="translate(1268.2,452.3) rotate(-53)"/>
<use href="#ku" transform="translate(1306.9,560.3) rotate(37.7)"/><use href="#ku" transform="translate(1271.6,606.8) rotate(37.7)"/><use href="#ku" transform="translate(1235.6,652.6) rotate(37.7)"/>
<use href="#kq" transform="translate(1235.6,379.4) rotate(-53)"/><use href="#kq" transform="translate(1280.8,414.3) rotate(-53)"/><use href="#kq" transform="translate(1326,445) rotate(-53)"/><use href="#kq" transform="translate(1305,620) rotate(37.7)"/><use href="#kq" transform="translate(1270,668) rotate(37.7)"/><use href="#kq" transform="translate(1235,712) rotate(37.7)"/>
</g>
<g class="t">
<path d="M1150,409L1168,422L1165,426L1147,413M1198,456L1216,470L1212,475L1194,461M1243,491L1262,505L1258,510L1239,496"/>
<path d="M1270,556L1248,588L1252,592L1274,560M1236,600L1214,630L1218,634L1240,604M1200,648L1180,672L1185,676L1205,652"/>
<rect x="-6" y="-2" width="12" height="4" transform="translate(1148,418) rotate(37)"/><rect x="-6" y="-2" width="12" height="4" transform="translate(1192,456) rotate(37)"/><rect x="-6" y="-2" width="12" height="4" transform="translate(1238,490) rotate(37)"/><rect x="-6" y="-2" width="12" height="4" transform="translate(1273,534) rotate(37)"/><rect x="-6" y="-2" width="12" height="4" transform="translate(1241,582) rotate(37)"/><rect x="-6" y="-2" width="12" height="4" transform="translate(1204,626) rotate(37)"/>
<path d="M1241,320C1245,314 1252,316 1259,320L1252,328M1288,355C1292,349 1300,349 1305,355L1297,363M1332,390C1336,384 1344,385 1349,391L1342,398M1372,627C1378,630 1376,638 1373,640L1363,637M1337,673C1343,678 1341,686 1338,687L1328,683M1301,719C1307,722 1305,729 1300,733L1292,730M1187,425C1192,419 1200,419 1205,423M1232,461C1236,455 1245,456 1250,460M1279,497C1282,491 1292,492 1297,497"/>
<path d="M1346,461C1345,454 1342,449 1343,444L1336,455M1362,573C1365,578 1365,585 1362,590"/>
</g>

<!-- upper changing room -->
<g>
<use href="#lk" transform="translate(1349,480) rotate(37.7)"/><use href="#lk" transform="translate(1359,488) rotate(37.7)"/><use href="#lk" transform="translate(1369,496) rotate(37.7)"/><use href="#lk" transform="translate(1379,503) rotate(37.7)"/><use href="#lk" transform="translate(1389,511) rotate(37.7)"/>
</g>
<path class="t" d="M1323,540L1332,527L1351,541L1343,554L1323,540ZM1327,534L1347,548M1332,534L1325,546M1339,539L1331,551M1345,544L1337,556M1330,524L1356,543M1320,544L1346,562"/>
<path class="t" d="M1371,523L1379,528L1357,562L1347,555ZM1373,528L1352,559M1360,540L1368,546"/>
<path class="t" d="M1293,528L1330,480L1328,475L1285,531L1319,557L1316,561L1282,535M1295,535L1318,553M1330,482L1300,520"/>
<path class="t" d="M1283,527L1276,537M1287,530L1280,540M1291,533L1284,543M1295,536L1288,546M1299,539L1292,549M1303,542L1296,552M1307,545L1300,555M1311,548L1304,558M1289,502L1283,510M1293,497L1287,505M1297,492L1291,500M1301,487L1295,495M1305,482L1299,490"/>
<text font-size="4.6" text-anchor="middle" transform="translate(1314.7,515.8) rotate(-58)"><tspan x="0" y="-5">Changing</tspan><tspan x="0" y="1">room and</tspan><tspan x="0" y="7">shower</tspan></text>

<!-- lower changing room -->
<path class="t" d="M1195,730L1166,762L1172,768L1200,737M1206,715L1244,745L1238,752L1200,722L1180,750L1172,744L1200,712M1204,700L1198,707M1210,704L1204,711M1216,709L1210,716M1222,713L1216,720M1228,717L1222,724M1234,722L1228,729M1240,726L1234,733M1201,699L1178,729M1197,705L1186,720"/>
<path class="t" d="M1182,766L1209,782L1194,803L1167,783ZM1176,775L1203,793M1171,783L1196,802M1183,772L1172,787M1193,778L1181,795"/>
<text font-size="7.8" text-anchor="middle" transform="translate(1214.7,744.8) rotate(-58)"><tspan x="0" y="-8">Changing</tspan><tspan x="0" y="1.5">room and</tspan><tspan x="0" y="11">shower</tspan></text>
<g>
<use href="#lk" transform="translate(1236,780) rotate(-52) scale(.95)"/><use href="#lk" transform="translate(1229,789) rotate(-52) scale(.95)"/><use href="#lk" transform="translate(1222,798) rotate(-52) scale(.95)"/><use href="#lk" transform="translate(1215,807) rotate(-52) scale(.95)"/><use href="#lk" transform="translate(1208,816) rotate(-52) scale(.95)"/>
</g>
<path class="t" d="M1140,793L1145,786L1172,812L1167,818ZM1135,790L1175,827L1170,832M1143,800L1156,816M1150,796L1163,811M1157,803L1150,810"/>
<use href="#kq" transform="translate(1150,812) rotate(40)"/><use href="#kq" transform="translate(1165,826) rotate(40)"/>
<path class="t" d="M1200,833C1206,832 1212,835 1214,838M1186,834C1190,828 1196,827 1198,832M1257,770C1262,770 1267,775 1268,783"/>
<path class="t" d="M1260,772L1285,803M1255,775L1280,806M1288,804L1265,787"/>

<!-- section A right -->
<path d="M1282,770.7H1384" stroke="#444" stroke-width=".7" stroke-dasharray="22 7 8 7"/>
<path class="b" d="M1381,770.7H1410L1395.5,785Z"/>
<circle cx="1395.1" cy="770.7" r="11" class="f" stroke-width=".7"/>
<text x="1395.1" y="776" text-anchor="middle" transform="rotate(180 1395.1 770.7)" style="font-size:15px">A</text>

<!-- north arrow -->
<path class="b" d="M1380,318L1437,285L1428,277.6L1465.7,275.9L1445,305L1442,292L1386,327Z"/>
<text x="1465" y="292" textLength="26" lengthAdjust="spacingAndGlyphs" style="font-size:44px;stroke:#000;stroke-width:.5">N</text>

<!-- connector lines -->
<path d="M172,450L275,755L441,490" stroke="#35626f" stroke-width="1.1" stroke-linejoin="miter"/>

<!-- callouts -->
<circle cx="160" cy="327" r="123" fill="#fff" stroke="none" filter="url(#csh)"/>
<path d="M40,352C55,420 105,450 160,450C215,450 265,420 281,352" stroke="#777" stroke-width="1"/>
<g clip-path="url(#c1)">
<use href="#room"/>
<use href="#sr" x="144.5" y="239"/><use href="#sr" x="138.6" y="247"/><use href="#sr" x="132.7" y="255"/><use href="#sr" x="126.8" y="263"/><use href="#sr" x="120.9" y="271"/><use href="#sr" x="115" y="279"/><use href="#sr" x="109.1" y="287"/>
<use href="#sr" x="94.3" y="313.8"/><use href="#sr" x="89" y="321"/><use href="#sr" x="84" y="328"/><use href="#sr" x="79.3" y="336"/>
</g>
<circle cx="494" cy="377" r="123" fill="#fff" stroke="none" filter="url(#csh)"/>
<path d="M374,402C389,470 439,500 494,500C549,500 599,470 615,402" stroke="#777" stroke-width="1"/>
<g clip-path="url(#c2)">
<g transform="translate(344,64.6) scale(.96)"><use href="#room"/></g>
<use href="#rtb" transform="translate(479.3,307)"/><use href="#rtb" transform="translate(448.8,336.3)"/><use href="#rtb" transform="translate(505.9,331.8)"/><use href="#rtb" transform="translate(533.7,355)"/><use href="#rtb" transform="translate(476.7,358.8)"/><use href="#rtb" transform="translate(427.9,370.8)"/><use href="#rtb" transform="translate(566.7,371.3)"/><use href="#rtb" transform="translate(508,385)"/><use href="#rtb" transform="translate(461.3,397.5)"/><use href="#rtb" transform="translate(540.1,407)"/><use href="#rtb" transform="translate(496.9,424.5)"/><use href="#rtb" transform="translate(527.3,446.3)"/>
</g>
</g>

<!-- title -->
<text x="432.5" y="1051" textLength="318" lengthAdjust="spacingAndGlyphs" style="font-family:'Liberation Serif',serif;font-size:34px;font-weight:bold;fill:#000">GROUND FLOOR PLAN</text>
<text x="431" y="1049" textLength="318" lengthAdjust="spacingAndGlyphs" style="font-family:'Liberation Serif',serif;font-size:34px;font-weight:bold;fill:#000">GROUND FLOOR PLAN</text>
<text x="757" y="1050" textLength="78" lengthAdjust="spacingAndGlyphs" style="font-family:'Liberation Serif',serif;font-size:11px;fill:#333">SCALE&#160;&#160;1:100</text>
<!-- watermark -->
<g opacity=".42">
<text x="878" y="1056" text-anchor="start" direction="rtl" textLength="188" lengthAdjust="spacingAndGlyphs" style="font-family:'DejaVu Sans',sans-serif;font-size:78px;font-weight:bold;fill:#bbb">مستقل</text>
<text x="784" y="1084" text-anchor="middle" textLength="188" lengthAdjust="spacingAndGlyphs" style="font-family:'Liberation Sans',sans-serif;font-size:31px;font-weight:bold;fill:#bbb">mostaql.com</text>
</g>
</svg>
</body></html>
